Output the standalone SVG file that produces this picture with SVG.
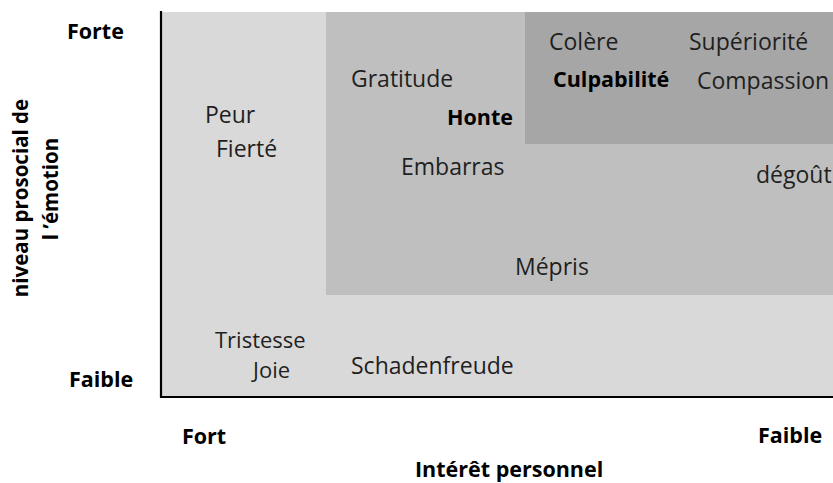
<svg xmlns="http://www.w3.org/2000/svg" width="833" height="483" viewBox="0 0 833 483">
<style>
.t{font-family:"Open Sans","Noto Sans",sans-serif;font-size:23px;fill:#1f1f1f}
.b{font-family:"Open Sans","Noto Sans",sans-serif;font-size:21.5px;font-weight:bold;fill:#000}
</style>
<rect width="833" height="483" fill="#ffffff"/>
<g id="zone-faible">
<rect x="161" y="12" width="672" height="385" fill="#d9d9d9"/>
</g>
<g id="zone-moyenne">
<rect x="326" y="12" width="507" height="283" fill="#bfbfbf"/>
</g>
<g id="zone-forte">
<rect x="525" y="12" width="308" height="132" fill="#a6a6a6"/>
</g>
<g id="axes">
<line x1="161" y1="11" x2="161" y2="398" stroke="#000" stroke-width="2.2"/>
<line x1="160" y1="397" x2="833" y2="397" stroke="#000" stroke-width="2.2"/>
</g>
<g id="labels">
<text class="b" x="67" y="39">Forte</text>
<text class="b" x="69" y="387">Faible</text>
<text class="b" x="182" y="444">Fort</text>
<text class="b" x="758" y="443">Faible</text>
<text class="b" x="415" y="477">Intérêt personnel</text>
<text class="b" transform="translate(28,198) rotate(-90)" text-anchor="middle" style="font-size:20.5px">niveau prosocial de</text>
<text class="b" transform="translate(58,189) rotate(-90)" text-anchor="middle" style="font-size:20.5px">l ’émotion</text>
</g>
<g id="emotions">
<text class="t" x="205" y="123">Peur</text>
<text class="t" x="216" y="157">Fierté</text>
<text class="t" x="351" y="87">Gratitude</text>
<text class="b" x="447" y="125">Honte</text>
<text class="t" x="401" y="175">Embarras</text>
<text class="t" x="549" y="50">Colère</text>
<text class="t" x="689" y="50">Supériorité</text>
<text class="b" x="553" y="87">Culpabilité</text>
<text class="t" x="697" y="89">Compassion</text>
<text class="t" x="756" y="183">dégoût</text>
<text class="t" x="515" y="275">Mépris</text>
<text class="t" x="215" y="348" style="font-size:22px">Tristesse</text>
<text class="t" x="253" y="378" style="font-size:22px">Joie</text>
<text class="t" x="351" y="374">Schadenfreude</text>
</g>
</svg>
